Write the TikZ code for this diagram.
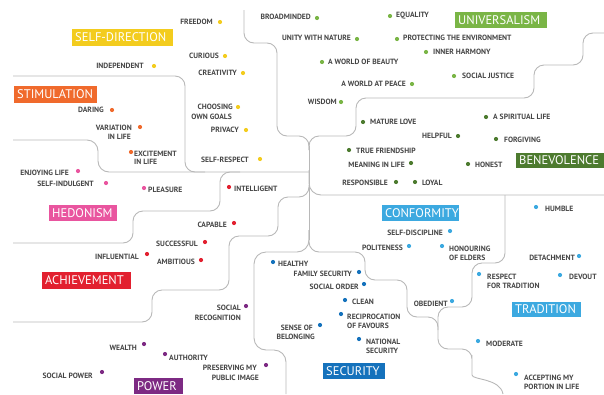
\documentclass[tikz,border=0pt]{standalone}
\usepackage{fontspec}
\newfontfamily\ptsans{PT Sans}
\definecolor{cYellow}{HTML}{F3CC1E}
\definecolor{cOrange}{HTML}{F06A2C}
\definecolor{cPink}{HTML}{E9559F}
\definecolor{cRed}{HTML}{E2202F}
\definecolor{cPurple}{HTML}{7D2A83}
\definecolor{cBlue}{HTML}{1572BC}
\definecolor{cLBlue}{HTML}{3CA9E0}
\definecolor{cLGreen}{HTML}{7AB546}
\definecolor{cDGreen}{HTML}{4D7B2F}
\definecolor{txt}{HTML}{454545}
\definecolor{ln}{HTML}{B8B8B8}
\tikzset{
 divider/.style={draw=ln, line width=0.9pt, rounded corners=10pt},
 lbl/.style={font=\ptsans\bfseries\fontsize{7.6}{8}\selectfont, text=txt, inner sep=0pt},
 vdot/.style={circle, fill=#1, inner sep=0pt, minimum size=4.2pt, draw=none},
 catbox/.style={fill=#1, text=white, font=\ptsans\fontsize{12.5}{13}\selectfont, inner xsep=3pt, inner ysep=0pt, text height=8.8pt, text depth=0pt, align=left, anchor=west},
}
\newcommand\vitem[8]{%
 \node[vdot=#2] (#1-dot) at (#3,#4) {};
 \node[lbl, anchor=base #5] (#1) at (#6,{#7+2.6}) {#8};}
\newcommand\secline[5]{%
 \node[lbl, anchor=base #2] (#1) at (#3,{#4+2.6}) {#5};}
\begin{document}
\begin{tikzpicture}[x=1pt,y=-1pt]
\useasboundingbox (0,0) rectangle (604,394);
% dividers
\draw[divider] (244,10) -- (244,43) -- (277,43) -- (277,136) -- (309,136) -- (309,150);
\draw[divider] (604,33) -- (583,33) -- (583,65) -- (534,65) -- (534,98) -- (356,98) -- (356,136) -- (309,136) -- (309,150);
\draw[divider] (309,146) -- (309,240);
\draw[divider, rounded corners=11pt] (13,140) -- (98,140) -- (98,172) -- (309,172);
\draw[divider] (13,76) -- (185,76) -- (185,172) -- (205,172);
\draw[divider] (13,243) -- (133,243) -- (133,211) -- (220,211) -- (220,172) -- (240,172);
\draw[divider] (13,322) -- (152,322) -- (152,290) -- (229,290) -- (229,236) -- (278,236) -- (278,197) -- (309,197) -- (309,185);
\draw[divider, rounded corners=12pt] (309,170) -- (309,195) -- (604,195);
\draw[divider, rounded corners=12pt] (309,230) -- (309,252) -- (254,252) -- (254,350) -- (286,350) -- (286,394);
\draw[divider] (309,230) -- (309,252) -- (365,252) -- (365,280) -- (407,280) -- (407,317) -- (438,317) -- (438,349) -- (472,349) -- (472,365) .. controls (472,380) and (500,378) .. (503,394);
\draw[divider] (505,195) -- (505,263) -- (472,263) -- (472,307) -- (438,307) -- (438,330);
% categories
\node[catbox=cYellow, text width=95pt, minimum height=17pt] (selfdir) at (72,37.5) {\mbox{SELF-DIRECTION}};
\node[catbox=cOrange, text width=77pt, minimum height=17pt] (stim) at (14,94.5) {\mbox{STIMULATION}};
\node[catbox=cLGreen, text width=86pt, minimum height=16pt] (univ) at (455,20) {\mbox{UNIVERSALISM}};
\node[catbox=cDGreen, text width=82pt, minimum height=15pt] (benev) at (516,160.5) {\mbox{BENEVOLENCE}};
\node[catbox=cPink, text width=62pt, minimum height=16pt] (hedon) at (49,213) {\mbox{HEDONISM}};
\node[catbox=cLBlue, text width=71pt, minimum height=16pt] (conf) at (382,213) {\mbox{CONFORMITY}};
\node[catbox=cRed, text width=83pt, minimum height=17pt] (achiev) at (42,280.5) {\mbox{ACHIEVEMENT}};
\node[catbox=cLBlue, text width=63pt, minimum height=15pt] (trad) at (512,309.5) {\mbox{TRADITION}};
\node[catbox=cBlue, text width=56pt, minimum height=16pt] (secur) at (323,371) {\mbox{SECURITY}};
\node[catbox=cPurple, text width=43pt, minimum height=16pt] (power) at (134,386) {\mbox{POWER}};
% self-direction
\vitem{freedom}{cYellow}{220}{22}{east}{213}{22}{FREEDOM}
\vitem{curious}{cYellow}{225}{56}{east}{219}{56}{CURIOUS}
\vitem{creativity}{cYellow}{243}{73}{east}{237}{73}{CREATIVITY}
\vitem{goals}{cYellow}{238}{107}{east}{233}{107}{CHOOSING}
\secline{goals2}{east}{232}{117}{OWN GOALS}
\vitem{privacy}{cYellow}{246}{130}{east}{239}{130}{PRIVACY}
\vitem{selfresp}{cYellow}{260}{159}{east}{249}{160}{SELF-RESPECT}
\vitem{indep}{cYellow}{154}{66}{east}{144}{66}{INDEPENDENT}
% stimulation
\vitem{daring}{cOrange}{112}{110}{east}{104}{110}{DARING}
\vitem{variation}{cOrange}{140}{127}{east}{132}{128}{VARIATION}
\secline{variation2}{east}{131}{137}{IN LIFE}
\vitem{excite}{cOrange}{131}{152}{west}{134}{154}{EXCITEMENT}
\secline{excite2}{west}{134}{162}{IN LIFE}
% hedonism
\vitem{enjoy}{cPink}{78}{171}{east}{69}{173}{ENJOYING LIFE}
\vitem{indulg}{cPink}{106}{183}{east}{94}{184}{SELF-INDULGENT}
\vitem{pleasure}{cPink}{144}{188}{west}{148}{190}{PLEASURE}
% achievement
\vitem{intell}{cRed}{229}{187}{west}{234}{189}{INTELLIGENT}
\vitem{capable}{cRed}{234}{223}{east}{227}{225}{CAPABLE}
\vitem{success}{cRed}{205}{242}{east}{198}{244}{SUCCESSFUL}
\vitem{ambit}{cRed}{201}{260}{east}{195}{262}{AMBITIOUS}
\vitem{influ}{cRed}{147}{254}{east}{139}{257}{INFLUENTIAL}
% power
\vitem{socrec}{cPurple}{246}{306}{east}{241}{308}{SOCIAL}
\secline{socrec2}{east}{241}{318}{RECOGNITION}
\vitem{pubimg}{cPurple}{266}{365}{east}{257}{368}{PRESERVING MY}
\secline{pubimg2}{east}{259}{378}{PUBLIC IMAGE}
\vitem{wealth}{cPurple}{144}{344}{east}{137}{348}{WEALTH}
\vitem{author}{cPurple}{165}{354}{west}{169}{358}{AUTHORITY}
\vitem{socpow}{cPurple}{102}{372}{east}{93}{376}{SOCIAL POWER}
% security
\vitem{healthy}{cBlue}{273}{262}{west}{278}{264}{HEALTHY}
\vitem{famsec}{cBlue}{359}{272}{east}{352}{274}{FAMILY SECURITY}
\vitem{socord}{cBlue}{364}{284}{east}{359}{287}{SOCIAL ORDER}
\vitem{clean}{cBlue}{345}{300}{west}{352}{302}{CLEAN}
\vitem{recip}{cBlue}{341}{314}{west}{347}{317}{RECIPROCATION}
\secline{recip2}{west}{347}{326}{OF FAVOURS}
\vitem{belong}{cBlue}{320}{325}{east}{313}{328}{SENSE OF}
\secline{belong2}{east}{315}{337}{BELONGING}
\vitem{natsec}{cBlue}{359}{339}{west}{366}{342}{NATIONAL}
\secline{natsec2}{west}{366}{351}{SECURITY}
% conformity
\vitem{selfdisc}{cLBlue}{450}{231}{east}{443}{233}{SELF-DISCIPLINE}
\vitem{polite}{cLBlue}{409}{246}{east}{403}{248}{POLITENESS}
\vitem{honour}{cLBlue}{442}{246}{west}{449}{249}{HONOURING}
\secline{honour2}{west}{449}{258}{OF ELDERS}
\vitem{obed}{cLBlue}{452}{301}{east}{448}{304}{OBEDIENT}
% tradition
\vitem{humble}{cLBlue}{536}{207}{west}{545}{209}{HUMBLE}
\vitem{detach}{cLBlue}{579}{256}{east}{575}{258}{DETACHMENT}
\vitem{resptrad}{cLBlue}{479}{274}{west}{487}{277}{RESPECT}
\secline{resptrad2}{west}{487}{286}{FOR TRADITION}
\vitem{devout}{cLBlue}{560}{275}{west}{569}{277}{DEVOUT}
\vitem{moder}{cLBlue}{478}{341}{west}{486}{344}{MODERATE}
\vitem{accept}{cLBlue}{516}{374}{west}{524}{378}{ACCEPTING MY}
\secline{accept2}{west}{524}{387}{PORTION IN LIFE}
% universalism
\vitem{broad}{cLGreen}{317}{18}{east}{311}{17}{BROADMINDED}
\vitem{equal}{cLGreen}{390}{16}{west}{396}{15}{EQUALITY}
\vitem{unity}{cLGreen}{357}{39}{east}{351}{38}{UNITY WITH NATURE}
\vitem{protect}{cLGreen}{397}{39}{west}{403}{38}{PROTECTING THE ENVIRONMENT}
\vitem{beauty}{cLGreen}{322}{62}{west}{328}{62}{A WORLD OF BEAUTY}
\vitem{harmony}{cLGreen}{426}{52}{west}{433}{52}{INNER HARMONY}
\vitem{peace}{cLGreen}{412}{84}{east}{406}{84}{A WORLD AT PEACE}
\vitem{justice}{cLGreen}{454}{76}{west}{462}{76}{SOCIAL JUSTICE}
\vitem{wisdom}{cLGreen}{341}{102}{east}{337}{102}{WISDOM}
% benevolence
\vitem{mature}{cDGreen}{363}{122}{west}{370}{122}{MATURE LOVE}
\vitem{spirit}{cDGreen}{486}{117}{west}{493}{117}{A SPIRITUAL LIFE}
\vitem{helpful}{cDGreen}{458}{136}{east}{452}{136}{HELPFUL}
\vitem{forgive}{cDGreen}{496}{139}{west}{504}{140}{FORGIVING}
\vitem{friend}{cDGreen}{349}{150}{west}{356}{151}{TRUE FRIENDSHIP}
\vitem{meaning}{cDGreen}{411}{163}{east}{405}{165}{MEANING IN LIFE}
\vitem{honest}{cDGreen}{468}{164}{west}{475}{165}{HONEST}
\vitem{respons}{cDGreen}{396}{182}{east}{388}{183}{RESPONSIBLE}
\vitem{loyal}{cDGreen}{415}{182}{west}{422}{183}{LOYAL}
\end{tikzpicture}
\end{document}
